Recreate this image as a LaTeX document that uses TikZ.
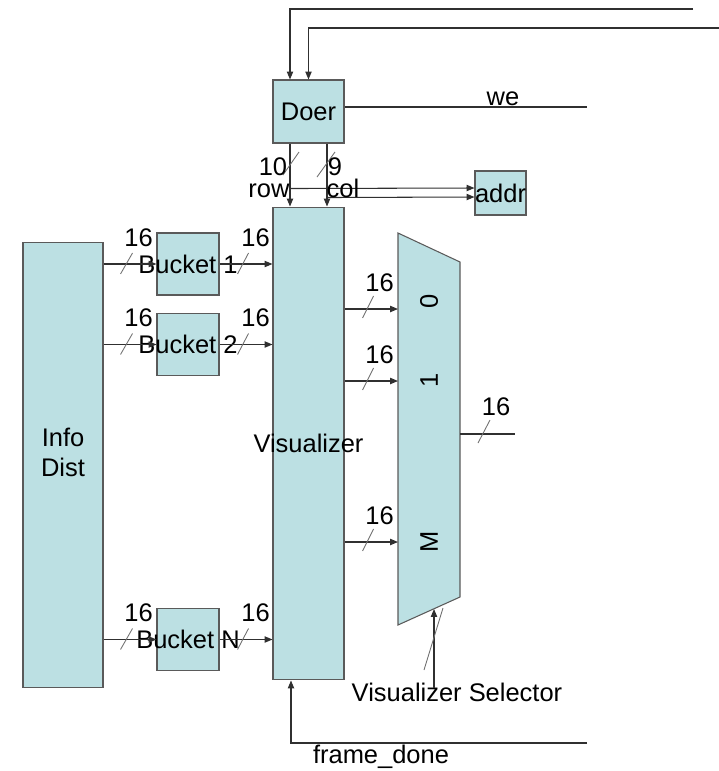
\documentclass[tikz,border=0pt]{standalone}
\usepackage{fontspec}
\setmainfont{Liberation Sans}
\usetikzlibrary{arrows.meta, positioning, calc}
\definecolor{boxfill}{HTML}{BCE0E3}
\definecolor{boxline}{HTML}{5A5A5A}
\definecolor{wirecol}{HTML}{303030}
\definecolor{markcol}{HTML}{707070}
\newcommand{\dgmfont}{\fontsize{14.5}{17}\selectfont}
\tikzset{
  blk/.style={
    rectangle, draw=boxline, fill=boxfill, line width=0.6pt, inner sep=0pt
  },
  bucket/.style={
    blk, minimum width=1.24cm, minimum height=1.24cm, label={center:#1}
  },
  wire/.style={
    draw=wirecol, line width=0.6pt
  },
  sig/.style={
    wire, -{Triangle[length=4.5pt, width=3.6pt]}
  },
  busmark/.style={
    draw=markcol, line width=0.5pt
  }
}

\begin{document}
\begin{tikzpicture}[x=0.02cm, y=-0.02cm, font=\dgmfont,
  width/.style={anchor=base, inner sep=0pt},
]
  \useasboundingbox (0,0) rectangle (719,771);

  % Blocks
  \node[blk, minimum width=1.6cm, minimum height=8.92cm,
        label={[yshift=0.26cm, align=center]center:Info\\Dist}] (info) at (63,465) {};
  \node[blk, minimum width=1.42cm, minimum height=1.26cm] (doer) at (308.5,111.5) {Doer};
  \node[blk, minimum width=0.9cm, minimum height=0.88cm] (addr) at (500.5,193) {addr};
  \node[blk, minimum width=1.42cm, minimum height=9.46cm,
        label={center:Visualizer}] (vis) at (308.5,443.5) {};
  \node[bucket=Bucket 1] (b1) at (188,264) {};
  \node[bucket=Bucket 2] (b2) at (188,344.5) {};
  \node[bucket=Bucket N] (bn) at (188,639.5) {};

  % Mux
  \draw[blk] (398,233) -- (460,262) -- (460,597) -- (398,625) -- cycle;
  \coordinate (mux0) at (398,309);
  \coordinate (mux1) at (398,381);
  \coordinate (muxM) at (398,542);
  \coordinate (muxout) at (460,434);
  \coordinate (muxsel) at (434,609);
  \node[rotate=90] (sel0) at (429,301) {0};
  \node[rotate=90] (sel1) at (429,380) {1};
  \node[rotate=90] (selM) at (429,542) {M};

  % Inputs to Doer
  \coordinate (inA) at (693,9);
  \coordinate (inB) at (719,28);
  \draw[sig] (inA) -| ($(doer.north)+(-18.5,0)$);
  \draw[sig] (inB) -| (doer.north);

  % we
  \coordinate (weend) at (587,107);
  \draw[wire] (doer.east |- weend) -- (weend);
  \node[width] (we) at (503,105) {we};

  % row / col
  \coordinate (rowtap) at ($(doer.south)+(-18.5,45)$);
  \coordinate (coltap) at ($(doer.south)+(18.5,54)$);
  \draw[sig] ($(doer.south)+(-18.5,0)$) -- ($(vis.north)+(-18.5,0)$);
  \draw[sig] ($(doer.south)+(18.5,0)$) -- ($(vis.north)+(18.5,0)$);
  \draw[sig] (rowtap) -- ($(addr.west)+(0,-5)$);
  \draw[sig] (coltap) -- ($(addr.west)+(0,4)$);
  \draw[busmark] (283,175) -- (299,152);
  \draw[busmark] (317,177) -- (335,152);
  \node[width] (rowbits) at (273,175) {10};
  \node[width] (colbits) at (335,175) {9};
  \node[width] (rowname) at (269,197) {row};
  \node[width] (colname) at (343,197) {col};

  % Buckets
  \foreach \b in {b1,b2,bn}{
    \draw[sig] (info.east |- \b.west) -- (\b.west);
    \draw[sig] (\b.east) -- (vis.west |- \b.east);
    \draw[busmark] ($(info.east |- \b.west)+(17,10)$) -- ++(12,-21);
    \draw[busmark] ($(\b.east)+(18,10)$) -- ++(11,-21);
    \node[width] (\b-in) at ($(info.east |- \b.west)+(35,-18)$) {16};
    \node[width] (\b-out) at ($(\b.east)+(36,-18)$) {16};
  }

  % Visualizer to mux
  \foreach \m in {mux0,mux1,muxM}{
    \draw[sig] (vis.east |- \m) -- (\m);
    \draw[busmark] ($(vis.east |- \m)+(18,9)$) -- ++(11,-22);
    \node[width] (\m-w) at ($(vis.east |- \m)+(35,-18)$) {16};
  }

  % Mux output
  \coordinate (outend) at (515,434);
  \draw[wire] (muxout) -- (outend);
  \draw[busmark] (478,443) -- (490,420);
  \node[width] (outw) at (496,415) {16};

  % Selector
  \node[width] (selname) at (457,701) {Visualizer Selector};
  \draw[sig] ($(selname.north -| muxsel)+(0,6)$) -- (muxsel);
  \draw[busmark] (424,670) -- (443,608);

  % frame_done
  \coordinate (fdin) at (587,743);
  \draw[sig] (fdin) -| ($(vis.south)+(-17.5,0)$);
  \node[width] (fdname) at (381,763) {frame\_done};
\end{tikzpicture}
\end{document}
